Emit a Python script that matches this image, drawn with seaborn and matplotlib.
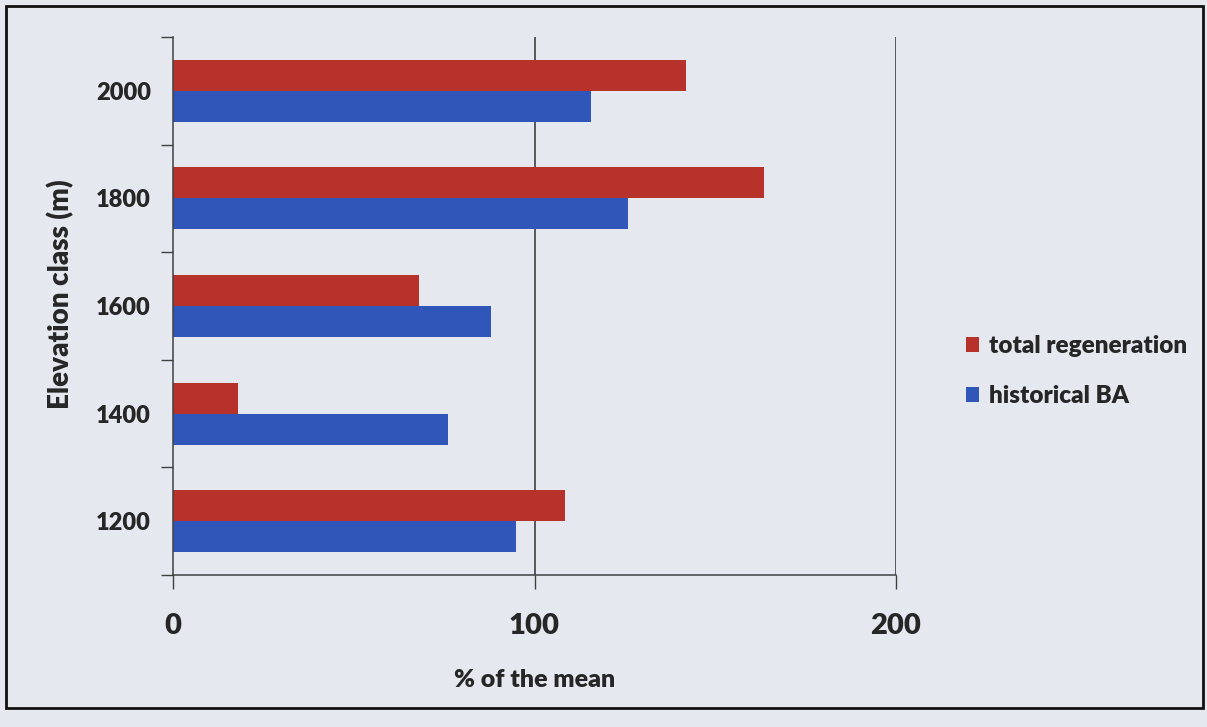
import matplotlib
matplotlib.use("Agg")
import matplotlib.pyplot as plt
from matplotlib.patches import Rectangle
import seaborn as sns
import pandas as pd

elevations = ["2000", "1800", "1600", "1400", "1200"]
total_regeneration = [142, 163.5, 68, 18, 108.5]
historical_ba = [115.5, 126, 88, 76, 95]
series_names = ["total regeneration", "historical BA"]
x_ticks = [0, 100, 200]

df = pd.DataFrame({
    "elev": elevations * 2,
    "value": total_regeneration + historical_ba,
    "series": [series_names[0]] * len(elevations) + [series_names[1]] * len(elevations),
})

sns.set_theme(style="white")
plt.rcParams["font.family"] = ["Lato", "DejaVu Sans"]
W = "heavy"

bg = "#e5e9ef"
fig = plt.figure(figsize=(12.07, 7.27), dpi=100, facecolor=bg)
ax = fig.add_axes([173/1207, 1-575/727, (896-173)/1207, (575-37)/727])
ax.set_facecolor("none")

palette = {series_names[0]: "#b8322c", series_names[1]: "#2f56b8"}
sns.barplot(data=df, y="elev", x="value", hue="series", order=elevations,
            hue_order=series_names, palette=palette, orient="h",
            width=0.575, gap=0, saturation=1, linewidth=0, ax=ax, legend=True)

ax.set_xlim(0, 200)
ax.set_ylim(4.5, -0.5)
ax.set_xticks(x_ticks)
ax.set_xticklabels([str(t) for t in x_ticks], fontsize=21, fontweight=W)
ax.tick_params(axis="x", length=10, width=1, color="#404040", pad=17, direction="out", bottom=True)
ax.set_yticks(range(len(elevations)))
ax.set_yticklabels(elevations, fontsize=17, fontweight=W)
ax.tick_params(axis="y", which="major", length=0, pad=16)
ax.set_yticks([i - 0.5 for i in range(len(elevations) + 1)], minor=True)
ax.tick_params(axis="y", which="minor", length=9, width=1, color="#404040", direction="out", left=True)

for v in [100, 200]:
    ax.axvline(v, color="#303030", lw=1.1, zorder=0)

for s in ["top", "right"]:
    ax.spines[s].set_visible(False)
for s in ["left", "bottom"]:
    ax.spines[s].set_color("#404040")
    ax.spines[s].set_linewidth(1.1)

ax.set_xlabel("% of the mean", fontsize=18, fontweight=W, labelpad=22)
ax.set_ylabel("Elevation class (m)", fontsize=20, fontweight=W)
ax.yaxis.set_label_coords((74-173)/723, (575-294)/538)

leg = ax.legend(loc="center left", bbox_to_anchor=(944/1207, 1-371/727),
                bbox_transform=fig.transFigure, frameon=False,
                prop={"family": ["Lato", "DejaVu Sans"], "weight": W, "size": 17.5},
                handlelength=0.55, handleheight=0.55, handletextpad=0.4, labelspacing=1.15)

fig.patches.append(Rectangle((6/1207, 1-708/727), (1203-6)/1207, (708-6)/727,
                             transform=fig.transFigure, fill=False,
                             edgecolor="#111111", lw=2))

fig.savefig("out.png", dpi=100, facecolor=bg)
